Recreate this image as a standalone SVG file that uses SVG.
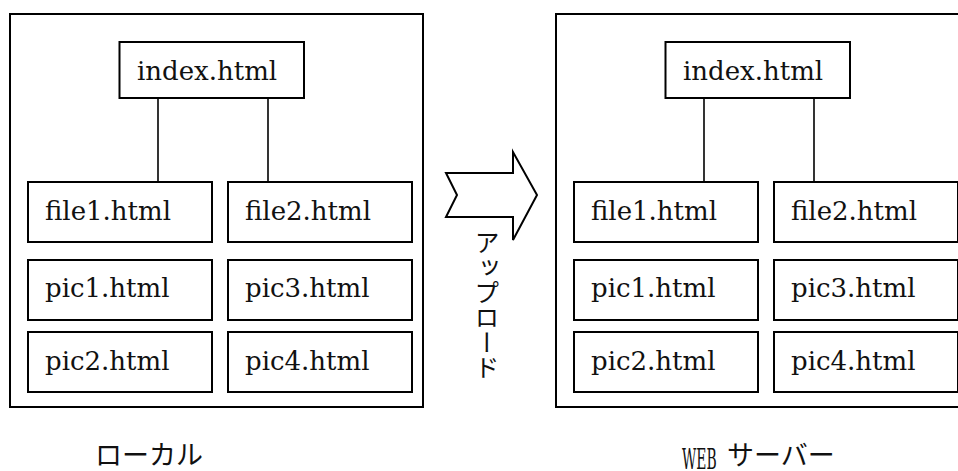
<svg xmlns="http://www.w3.org/2000/svg" width="958" height="471" viewBox="0 0 958 471">
  <style>
    .frame { fill: none; stroke: #000; stroke-width: 2; }
    .box { fill: #fff; stroke: #000; stroke-width: 2; }
    .link { stroke: #000; stroke-width: 1.6; fill: none; }
    .name { font-family: "DejaVu Serif", "Liberation Serif", serif; font-size: 26px; fill: #111; }
    .jp { font-family: "Noto Sans CJK JP", sans-serif; font-size: 27px; fill: #111; }
    .vjp { font-family: "Noto Sans CJK JP", sans-serif; font-size: 25px; fill: #111; }
    .latin { font-family: "DejaVu Serif", "Liberation Serif", serif; font-size: 28px; fill: #111; }
  </style>

  <!-- local folder -->
  <g id="local">
    <rect class="frame" x="10" y="14" width="413" height="393"/>
    <text class="jp" x="95" y="465">ローカル</text>
  </g>
  <g id="local-index"><rect class="box" x="119.5" y="42" width="184.5" height="56"/><text class="name" x="137" y="80">index.html</text></g>
  <g id="local-file1"><rect class="box" x="28" y="182" width="184" height="60"/><text class="name" x="45" y="220">file1.html</text></g>
  <g id="local-file2"><rect class="box" x="228" y="182" width="184" height="60"/><text class="name" x="245" y="220">file2.html</text></g>
  <g id="local-pic1"><rect class="box" x="28" y="260" width="184" height="60"/><text class="name" x="45" y="297">pic1.html</text></g>
  <g id="local-pic3"><rect class="box" x="228" y="260" width="184" height="60"/><text class="name" x="245" y="297">pic3.html</text></g>
  <g id="local-pic2"><rect class="box" x="28" y="332" width="184" height="60"/><text class="name" x="45" y="370">pic2.html</text></g>
  <g id="local-pic4"><rect class="box" x="228" y="332" width="184" height="60"/><text class="name" x="245" y="370">pic4.html</text></g>

  <!-- server folder -->
  <g id="server">
    <rect class="frame" x="556" y="14" width="413" height="393"/>
    <!-- narrow half-width latin letters -->
    <text class="latin" transform="translate(682 469) scale(0.496 1)">WEB</text>
    <text class="jp" x="727" y="465">サーバー</text>
  </g>
  <g id="server-index"><rect class="box" x="665.5" y="42" width="184.5" height="56"/><text class="name" x="683" y="80">index.html</text></g>
  <g id="server-file1"><rect class="box" x="574" y="182" width="184" height="60"/><text class="name" x="591" y="220">file1.html</text></g>
  <g id="server-file2"><rect class="box" x="774" y="182" width="184" height="60"/><text class="name" x="791" y="220">file2.html</text></g>
  <g id="server-pic1"><rect class="box" x="574" y="260" width="184" height="60"/><text class="name" x="591" y="297">pic1.html</text></g>
  <g id="server-pic3"><rect class="box" x="774" y="260" width="184" height="60"/><text class="name" x="791" y="297">pic3.html</text></g>
  <g id="server-pic2"><rect class="box" x="574" y="332" width="184" height="60"/><text class="name" x="591" y="370">pic2.html</text></g>
  <g id="server-pic4"><rect class="box" x="774" y="332" width="184" height="60"/><text class="name" x="791" y="370">pic4.html</text></g>

  <!-- upload arrow -->
  <g id="upload">
    <polygon class="box" points="446,173 513,173 513,152 537,195 513,240 513,217 446,217 457,195"/>
    <text class="vjp" x="487" y="230" writing-mode="vertical-rl">アップロード</text>
  </g>

  <g id="connectors">
    <line class="link" x1="158" y1="98" x2="158" y2="182"/>
    <line class="link" x1="268" y1="98" x2="268" y2="182"/>
    <line class="link" x1="704" y1="98" x2="704" y2="182"/>
    <line class="link" x1="814" y1="98" x2="814" y2="182"/>
  </g>
</svg>
